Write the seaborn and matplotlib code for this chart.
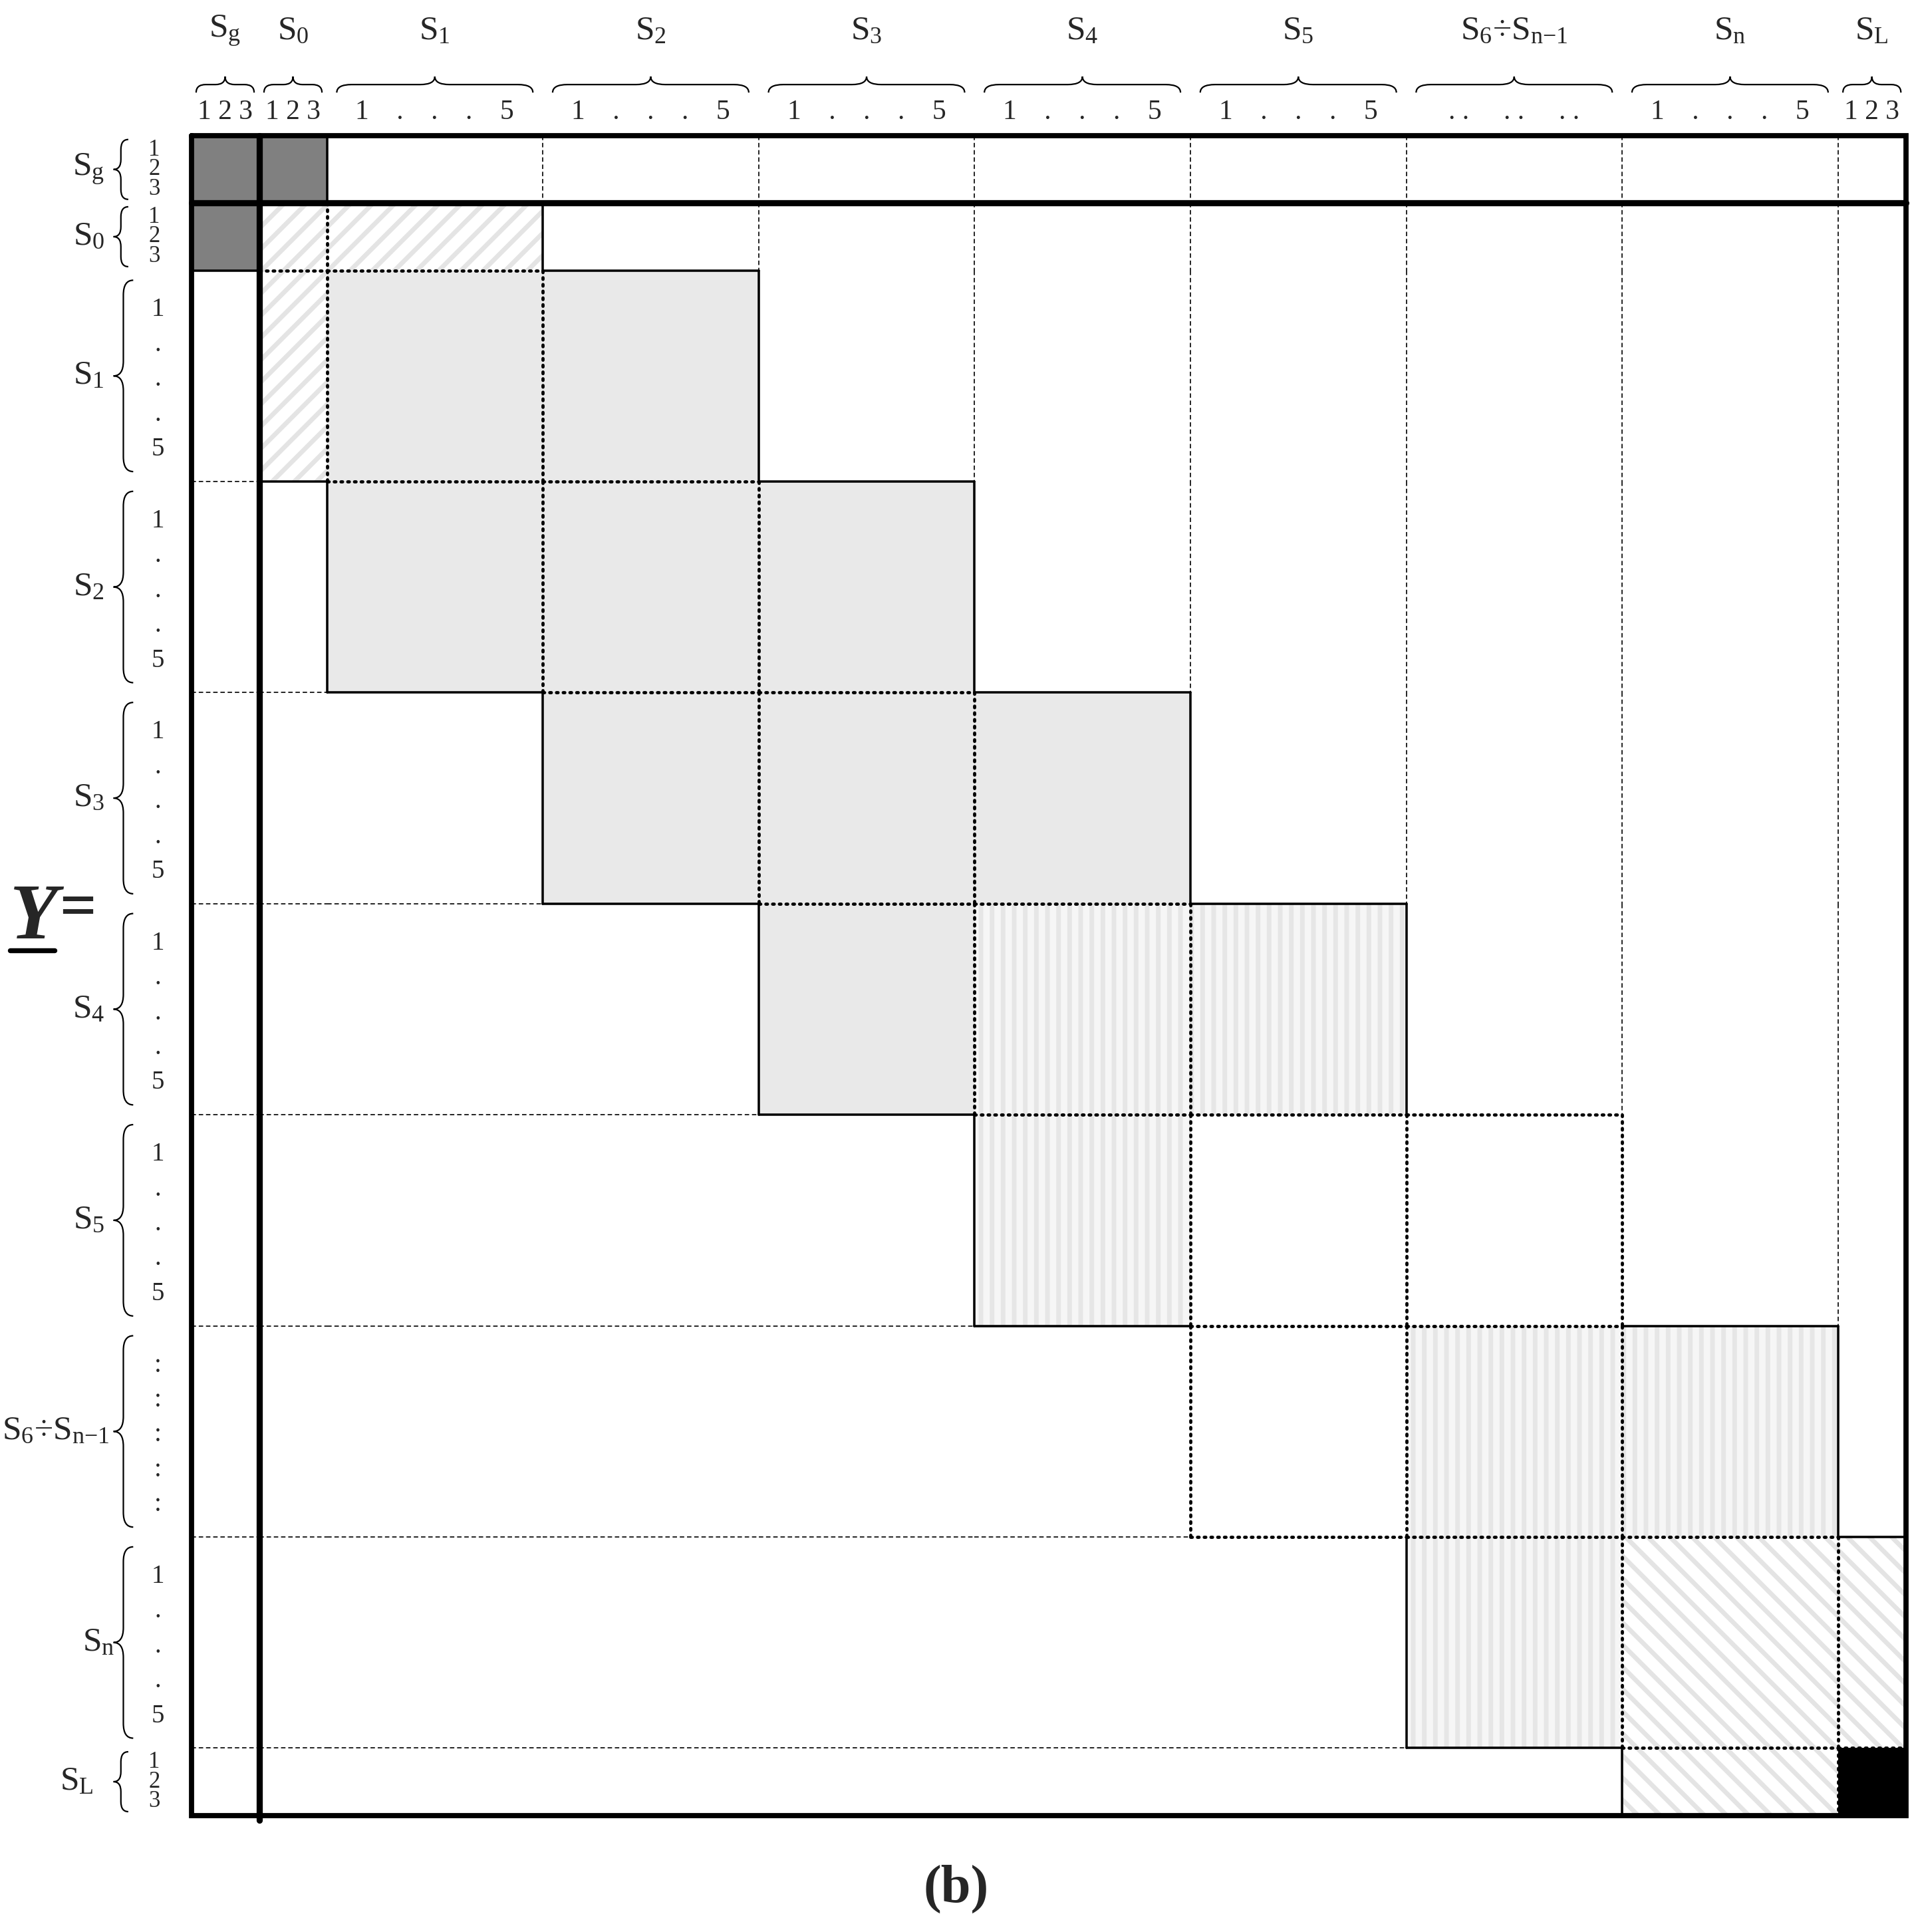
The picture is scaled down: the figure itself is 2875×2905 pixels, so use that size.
import numpy as np
import matplotlib
matplotlib.use("Agg")
import matplotlib.pyplot as plt
import seaborn as sns
from matplotlib.patches import Rectangle, PathPatch
from matplotlib.path import Path

sns.set_style("white")
plt.rcParams['font.family'] = ['Liberation Serif', 'DejaVu Serif']
plt.rcParams['mathtext.fontset'] = 'custom'
plt.rcParams['mathtext.rm'] = 'Liberation Serif'
plt.rcParams['mathtext.it'] = 'Liberation Serif:italic'
plt.rcParams['mathtext.bf'] = 'Liberation Serif:bold'

# ---- data ----
blocks = ["g", "0", "1", "2", "3", "4", "5", "6÷n-1", "n", "L"]
labels = [r"$\mathrm{S_g}$", r"$\mathrm{S_0}$", r"$\mathrm{S_1}$", r"$\mathrm{S_2}$",
          r"$\mathrm{S_3}$", r"$\mathrm{S_4}$", r"$\mathrm{S_5}$",
          r"$\mathrm{S_6}$÷$\mathrm{S_{n\mathrm{-}1}}$", r"$\mathrm{S_n}$", r"$\mathrm{S_L}$"]
counts = [3, 3, 5, 5, 5, 5, 5, 5, 5, 3]
col_index_labels = ["1 2 3", "1 2 3", "1    .    .    .    5", "1    .    .    .    5",
                    "1    .    .    .    5", "1    .    .    .    5", "1    .    .    .    5",
                    ". .     . .     . .", "1    .    .    .    5", "1 2 3"]
row_index_labels = ["1\n2\n3", "1\n2\n3", "1\n.\n.\n.\n5", "1\n.\n.\n.\n5", "1\n.\n.\n.\n5",
                    "1\n.\n.\n.\n5", "1\n.\n.\n.\n5", ":\n:\n:\n:\n:", "1\n.\n.\n.\n5", "1\n2\n3"]
# (row, col) -> fill type
cells = {
    (0, 0): "dark", (0, 1): "dark", (1, 0): "dark",
    (1, 1): "hatch", (1, 2): "hatch", (2, 1): "hatch",
    (2, 2): "gray", (2, 3): "gray", (3, 2): "gray", (3, 3): "gray", (3, 4): "gray",
    (4, 3): "gray", (4, 4): "gray", (4, 5): "gray", (5, 4): "gray",
    (5, 5): "check", (5, 6): "check", (6, 5): "check",
    (6, 6): "empty", (6, 7): "empty", (7, 6): "empty",
    (7, 7): "check", (7, 8): "check", (8, 7): "check",
    (8, 8): "back", (8, 9): "back", (9, 8): "back",
    (9, 9): "black",
}

# ---- layout (display units) ----
X0, Y0 = 155, 110
cw = {3: 55.0, 5: 175.0}
rh = {3: 54.5, 5: 171.0}
xs = X0 + np.concatenate([[0], np.cumsum([cw[c] for c in counts])])
ys = Y0 + np.concatenate([[0], np.cumsum([rh[c] for c in counts])])
n = len(blocks)

fig = plt.figure(figsize=(28.75, 29.05), dpi=100)
ax = fig.add_axes([0, 0, 1, 1])
ax.set_xlim(0, 1550)
ax.set_ylim(1565, 0)
ax.axis("off")

S = 2875 / 1550
def lw(px):
    return px * S * 72 / 100

styles = {
    "dark": dict(facecolor="#808080", hatch=None, hc="#808080"),
    "hatch": dict(facecolor="white", hatch="/", hc="#e4e4e4"),
    "gray": dict(facecolor="#e9e9e9", hatch=None, hc="#e9e9e9"),
    "check": dict(facecolor="#f6f6f6", hatch="|", hc="#e6e6e6"),
    "back": dict(facecolor="white", hatch="\\", hc="#e4e4e4"),
    "black": dict(facecolor="black", hatch=None, hc="black"),
    "empty": dict(facecolor="none", hatch=None, hc="white"),
}
plt.rcParams['hatch.linewidth'] = 5.0
for (r, c), t in cells.items():
    st = styles[t]
    ax.add_patch(Rectangle((xs[c], ys[r]), xs[c+1]-xs[c], ys[r+1]-ys[r],
                           facecolor=st["facecolor"], hatch=st["hatch"],
                           edgecolor=st["hc"], linewidth=0, zorder=1))

DOT = dict(color="black", lw=lw(2.6), linestyle=(0, (0.5, 1.6)), dash_capstyle="round")
SOLID = dict(color="black", lw=lw(1.9), linestyle="-")
DASH = dict(color="black", lw=lw(0.9), linestyle=(0, (4, 2.5)))

def edge_style(a, b, dashed_ok):
    ta, tb = cells.get(a), cells.get(b)
    if ta and tb:
        return DOT
    if ta or tb:
        return DOT if (ta == "empty" or tb == "empty") else SOLID
    return DASH if dashed_ok else None

def has_filled(cs):
    return any(k in cells and cells[k] != "empty" for k in cs)

for r in range(n):
    for c in range(n - 1):
        below = [(rr, cc) for rr in range(r + 1, n) for cc in (c, c + 1)]
        st = edge_style((r, c), (r, c + 1), has_filled(below))
        if st:
            ax.plot([xs[c+1]] * 2, [ys[r], ys[r+1]], zorder=3, **st)
for c in range(n):
    for r in range(n - 1):
        right = [(rr, cc) for cc in range(c + 1, n) for rr in (r, r + 1)]
        st = edge_style((r, c), (r + 1, c), has_filled(right))
        if st:
            ax.plot([xs[c], xs[c+1]], [ys[r+1]] * 2, zorder=3, **st)

# thick lines
ax.plot([xs[0], xs[-1], xs[-1], xs[0], xs[0]], [ys[0], ys[0], ys[-1], ys[-1], ys[0]],
        color="black", lw=lw(4.2), zorder=5, solid_joinstyle="miter")
ax.plot([xs[0], xs[-1]], [ys[1], ys[1]], color="black", lw=lw(5), zorder=5)
ax.plot([xs[1], xs[1]], [ys[0], ys[-1] + 4], color="black", lw=lw(5), zorder=5)

def hbrace(x0, x1, yb, yt):
    xm = (x0 + x1) / 2
    ymid = (yb + yt) / 2
    r = min(12, (x1 - x0) / 6)
    verts = [(x0, yb), (x0, ymid), (x0 + r, ymid), (xm - r, ymid), (xm, ymid), (xm, yt),
             (xm, ymid), (xm + r, ymid), (x1 - r, ymid), (x1, ymid), (x1, yb)]
    codes = [Path.MOVETO, Path.CURVE3, Path.CURVE3, Path.LINETO, Path.CURVE3, Path.CURVE3,
             Path.CURVE3, Path.CURVE3, Path.LINETO, Path.CURVE3, Path.CURVE3]
    ax.add_patch(PathPatch(Path(verts, codes), fill=False, lw=lw(1.2), edgecolor="black"))

def vbrace(y0, y1, xb, xt):
    ym = (y0 + y1) / 2
    xmid = (xb + xt) / 2
    r = min(12, (y1 - y0) / 6)
    verts = [(xb, y0), (xmid, y0), (xmid, y0 + r), (xmid, ym - r), (xmid, ym), (xt, ym),
             (xmid, ym), (xmid, ym + r), (xmid, y1 - r), (xmid, y1), (xb, y1)]
    codes = [Path.MOVETO, Path.CURVE3, Path.CURVE3, Path.LINETO, Path.CURVE3, Path.CURVE3,
             Path.CURVE3, Path.CURVE3, Path.LINETO, Path.CURVE3, Path.CURVE3]
    ax.add_patch(PathPatch(Path(verts, codes), fill=False, lw=lw(1.2), edgecolor="black"))

for c in range(n):
    xa, xb_ = xs[c], xs[c+1]
    xm = (xa + xb_) / 2
    ax.text(xm, 25, labels[c], ha="center", va="center", fontsize=37)
    pad = 4 if counts[c] == 3 else 8
    hbrace(xa + pad, xb_ - pad, 75, 62)
    ax.text(xm, 91, col_index_labels[c], ha="center", va="center", fontsize=30)

row_label_x = [72, 72, 72, 72, 72, 72, 72, 45, 80, 62]
for r in range(n):
    ya, yb_ = ys[r], ys[r+1]
    ym = (ya + yb_) / 2
    if counts[r] == 3:
        vbrace(ya + 3, yb_ - 3, 104, 92)
        ax.text(125, ym, row_index_labels[r], ha="center", va="center", fontsize=25, linespacing=0.85)
    else:
        vbrace(ya + 8, yb_ - 8, 108, 92)
        ax.text(128, ym + 3, row_index_labels[r], ha="center", va="center", fontsize=28, linespacing=1.55)
    ax.text(row_label_x[r], ym, labels[r], ha="center", va="center", fontsize=37)

ax.text(8, 745, "Y", ha="left", va="center", fontsize=85, fontweight="bold", fontstyle="italic")
ax.plot([8, 44], [770, 770], color="black", lw=lw(4))
ax.text(48, 738, "=", ha="left", va="center", fontsize=70, fontweight="bold")
ax.text(775, 1530, "(b)", ha="center", va="center", fontsize=58, fontweight="bold")

fig.savefig("out.png", dpi=100)
